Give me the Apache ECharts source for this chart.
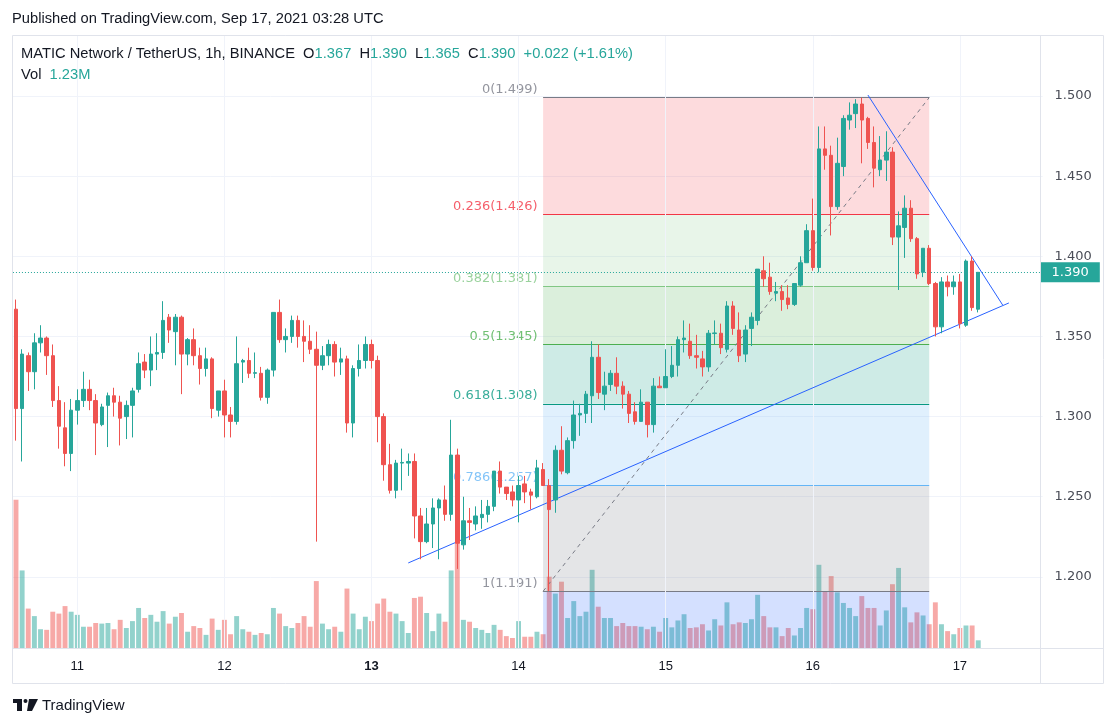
<!DOCTYPE html>
<html>
<head>
<meta charset="utf-8">
<script src="https://cdn.jsdelivr.net/npm/echarts@6.0.0/dist/echarts.min.js"></script>
<style>
html,body{margin:0;padding:0;background:#ffffff;}
#chart{width:1116px;height:727px;}
</style>
</head>
<body>
<div id="chart"></div>
<script>
// ---------- data ----------
const FIRST_BAR_UTC = Date.UTC(2021, 8, 10, 14); // first hourly bar: Sep 10 2021 14:00 UTC
const SLOT_COUNT = 168;                           // hourly slots on the time axis (incl. empty right margin)

const opens = [
1.367,1.305,1.338,1.328,1.346,1.349,1.338,1.310,1.293,1.277,
1.304,1.310,1.317,1.310,1.295,1.307,1.313,1.309,1.300,1.307,
1.317,1.334,1.329,1.339,1.340,1.362,1.353,1.362,1.339,1.348,
1.338,1.330,1.336,1.304,1.316,1.301,1.297,1.334,1.335,1.327,
1.327,1.312,1.329,1.365,1.348,1.350,1.360,1.350,1.347,1.342,
1.332,1.338,1.345,1.334,1.336,1.296,1.330,1.335,1.345,1.335,
1.300,1.270,1.254,1.271,1.271,1.272,1.238,1.222,1.233,1.243,
1.248,1.239,1.276,1.220,1.235,1.233,1.237,1.239,1.244,1.266,
1.256,1.253,1.248,1.258,1.253,1.250,1.267,1.257,1.248,1.279,
1.265,1.285,1.301,1.302,1.313,1.337,1.314,1.320,1.327,1.319,
1.314,1.303,1.297,1.309,1.295,1.319,1.318,1.325,1.332,1.348,
1.347,1.338,1.336,1.331,1.3518,1.352,1.342,1.369,1.354,1.339,
1.355,1.360,1.391,1.387,1.377,1.378,1.374,1.370,1.382,1.396,
1.416,1.393,1.467,1.463,1.431,1.456,1.485,1.489,1.495,1.486,
1.471,1.454,1.460,1.465,1.412,1.418,1.430,1.411,1.390,1.405,
1.383,1.356,1.384,1.381,1.384,1.357,1.397,1.367];

const closes = [
1.305,1.339,1.328,1.346,1.349,1.338,1.310,1.294,1.277,1.304,
1.310,1.317,1.310,1.296,1.306,1.313,1.309,1.299,1.307,1.316,
1.333,1.329,1.339,1.340,1.360,1.354,1.362,1.339,1.348,1.338,
1.330,1.336,1.305,1.316,1.301,1.297,1.333,1.335,1.327,1.3274,
1.312,1.329,1.365,1.348,1.350,1.360,1.350,1.347,1.342,1.332,
1.338,1.345,1.334,1.336,1.296,1.330,1.335,1.345,1.335,1.300,
1.270,1.254,1.271,1.2714,1.272,1.238,1.222,1.233,1.243,1.248,
1.239,1.276,1.221,1.235,1.234,1.238,1.239,1.244,1.266,1.256,
1.252,1.248,1.257,1.253,1.251,1.268,1.257,1.242,1.279,1.266,
1.285,1.301,1.302,1.314,1.337,1.315,1.319,1.327,1.319,1.314,
1.302,1.297,1.309,1.295,1.319,1.318,1.325,1.332,1.348,1.349,
1.338,1.337,1.331,1.352,1.3522,1.343,1.369,1.355,1.338,1.354,
1.362,1.392,1.386,1.378,1.378,1.373,1.370,1.383,1.396,1.416,
1.393,1.467,1.463,1.431,1.458,1.486,1.488,1.495,1.485,1.471,
1.455,1.460,1.465,1.412,1.419,1.430,1.411,1.389,1.405,1.383,
1.356,1.384,1.381,1.384,1.358,1.397,1.368,1.390];

const lows = [
1.285,1.272,1.316,1.317,1.340,1.326,1.306,1.280,1.269,1.266,
1.295,1.306,1.304,1.276,1.294,1.281,1.300,1.282,1.286,1.287,
1.315,1.324,1.319,1.329,1.336,1.346,1.332,1.314,1.332,1.332,
1.320,1.325,1.299,1.300,1.287,1.287,1.295,1.321,1.324,1.324,
1.310,1.308,1.325,1.346,1.340,1.346,1.343,1.334,1.339,1.222,
1.329,1.332,1.325,1.326,1.290,1.287,1.325,1.330,1.330,1.284,
1.260,1.252,1.249,1.254,1.263,1.224,1.211,1.221,1.218,1.211,
1.235,1.235,1.205,1.217,1.223,1.229,1.230,1.234,1.241,1.252,
1.248,1.244,1.234,1.246,1.242,1.249,1.257,1.191,1.240,1.264,
1.264,1.280,1.288,1.296,1.296,1.311,1.304,1.316,1.314,1.305,
1.296,1.295,1.297,1.287,1.290,1.318,1.318,1.324,1.325,1.340,
1.336,1.330,1.325,1.328,1.345,1.339,1.340,1.351,1.334,1.334,
1.344,1.357,1.381,1.376,1.372,1.366,1.367,1.369,1.381,1.396,
1.391,1.390,1.454,1.413,1.429,1.450,1.479,1.480,1.458,1.467,
1.443,1.450,1.447,1.407,1.379,1.399,1.409,1.386,1.387,1.382,
1.350,1.352,1.375,1.376,1.355,1.356,1.366,1.365];

const highs = [
1.373,1.342,1.340,1.352,1.357,1.350,1.345,1.319,1.309,1.311,
1.317,1.328,1.323,1.314,1.308,1.315,1.318,1.313,1.310,1.318,
1.340,1.339,1.350,1.352,1.372,1.364,1.364,1.363,1.349,1.355,
1.343,1.343,1.337,1.316,1.323,1.306,1.350,1.336,1.343,1.340,
1.331,1.330,1.365,1.373,1.355,1.363,1.363,1.360,1.357,1.353,
1.344,1.348,1.347,1.343,1.338,1.332,1.345,1.350,1.348,1.338,
1.302,1.283,1.273,1.280,1.277,1.277,1.243,1.243,1.249,1.249,
1.257,1.298,1.280,1.250,1.243,1.244,1.248,1.248,1.266,1.272,
1.256,1.257,1.263,1.263,1.255,1.273,1.271,1.261,1.282,1.294,
1.287,1.310,1.308,1.316,1.347,1.345,1.328,1.329,1.337,1.322,
1.316,1.309,1.317,1.309,1.324,1.325,1.342,1.344,1.350,1.360,
1.358,1.351,1.341,1.354,1.360,1.358,1.372,1.372,1.365,1.357,
1.365,1.392,1.400,1.396,1.384,1.382,1.382,1.383,1.400,1.420,
1.436,1.481,1.481,1.469,1.474,1.488,1.496,1.498,1.499,1.487,
1.481,1.475,1.478,1.468,1.428,1.438,1.435,1.412,1.405,1.407,
1.384,1.387,1.388,1.388,1.389,1.398,1.400,1.390];

// volume, millions
const volumes = [
23.7,12.4,6.3,5.1,3.0,2.9,5.8,5.5,6.7,5.8,
5.3,3.4,3.4,4.0,3.9,4.0,3.0,4.5,3.2,4.3,
6.4,4.8,5.3,4.2,5.9,3.9,5.0,5.6,2.6,3.5,
3.2,2.1,4.7,2.9,4.5,2.2,5.1,3.0,2.6,2.1,
2.4,2.2,6.4,5.5,3.5,3.2,4.0,5.1,3.4,10.7,
3.9,3.0,3.4,2.6,9.5,5.5,3.0,5.0,4.3,7.1,
7.9,5.8,5.5,4.3,2.4,8.0,8.2,5.6,2.7,5.5,
4.2,12.4,16.8,4.5,4.2,3.2,2.9,2.4,3.7,2.9,
1.9,1.6,4.3,1.8,1.8,2.6,2.2,11.4,8.7,10.6,
4.8,7.5,5.1,5.8,12.5,6.6,4.8,4.8,3.5,4.0,
3.5,3.5,3.4,3.0,3.4,2.6,4.8,3.3,4.4,5.4,
3.2,3.3,3.8,2.8,4.6,3.6,7.3,3.8,4.1,4.0,
4.6,8.5,5.1,3.3,3.3,1.9,3.2,2.0,3.2,6.4,
6.2,13.3,9.1,11.5,8.9,7.2,6.4,5.1,8.3,6.4,
6.4,3.6,6.0,10.2,12.8,6.5,4.1,5.7,5.2,3.8,
7.3,3.8,2.7,2.2,3.2,3.6,3.6,1.23];

// Fibonacci retracement drawing
const fibRatios = ['0','0.236','0.382','0.5','0.618','0.786','1'];
const fibPrices = [1.499,1.426,1.381,1.345,1.308,1.257,1.191];
const fibStartBar = 86, fibEndBar = 149;

// trend lines: [barIndex, price]
const supportLine    = [[64, 1.2087], [162, 1.3709]];
const resistanceLine = [[139, 1.5006], [161, 1.3695]];
const fibTrendLine   = [[fibStartBar, 1.191], [fibEndBar, 1.499]];

// visible price range of the pane
const PRICE_MIN = 1.15564, PRICE_MAX = 1.53805;
const VOLUME_AXIS_MAX = 98;

// ---------- build ----------
const categories = [];
for (let i = 0; i < SLOT_COUNT; i++) {
  const d = new Date(FIRST_BAR_UTC + i * 3600000);
  categories.push(d.getUTCDate() + ' ' + String(d.getUTCHours()).padStart(2, '0') + ':00');
}
const dayStarts = categories.filter(c => c.endsWith(' 00:00'));

const candleData = opens.map((o, i) => [o, closes[i], lows[i], highs[i]]);
const volData = volumes.map((v, i) => ({
  value: v,
  itemStyle: { color: closes[i] >= opens[i] ? 'rgba(38,166,154,0.5)' : 'rgba(239,83,80,0.5)' }
}));

const last = closes.length - 1;
const chg = closes[last] - closes[last - 1];
const pct = chg / closes[last - 1] * 100;

const fibLineColors = ['#787b86','#f23645','#81c784','#4caf50','#089981','#64b5f6','#787b86'];
const fibFillColors = ['rgba(242,54,69,0.18)','rgba(129,199,132,0.18)','rgba(76,175,80,0.2)',
  'rgba(8,153,129,0.2)','rgba(100,181,246,0.2)','rgba(120,123,134,0.2)','rgba(41,98,255,0.2)'];

const fibAreas = [];
for (let i = 0; i < fibPrices.length - 1; i++) {
  fibAreas.push([{ coord: [fibStartBar, fibPrices[i]], itemStyle: { color: fibFillColors[i] } },
                 { coord: [fibEndBar, fibPrices[i + 1]] }]);
}
fibAreas.push([{ coord: [fibStartBar, fibPrices[fibPrices.length - 1]], itemStyle: { color: fibFillColors[6] } },
               { coord: [fibEndBar, PRICE_MIN] }]);

const fibLines = fibPrices.map((p, i) => [
  { coord: [fibStartBar, p], lineStyle: { color: fibLineColors[i] } },
  { coord: [fibEndBar, p] }
]);

const FONT = "'Liberation Sans', Arial, sans-serif";
const AXFONT = "'DejaVu Sans', Verdana, sans-serif";
const chart = echarts.init(document.getElementById('chart'), null, { renderer: 'canvas' });

chart.setOption({
  animation: false,
  backgroundColor: '#ffffff',
  textStyle: { fontFamily: FONT },
  grid: { left: 12.94, right: 73.4, top: 35, bottom: 79, containLabel: false },
  xAxis: {
    type: 'category',
    data: categories,
    boundaryGap: true,
    axisLine: { show: false },
    axisTick: { show: false },
    splitLine: { show: false },
    axisLabel: {
      interval: (idx, val) => val.endsWith(' 00:00'),
      formatter: (val) => {
        const day = val.split(' ')[0];
        return day === '13' ? '{b|' + day + '}' : day;
      },
      color: '#131722', fontSize: 13, margin: 12, fontFamily: FONT,
      rich: { b: { fontWeight: 'bold', fontSize: 13, color: '#131722', fontFamily: FONT } }
    }
  },
  yAxis: [{
    type: 'value',
    position: 'right',
    min: PRICE_MIN, max: PRICE_MAX,
    splitNumber: 8,
    axisLine: { show: false },
    axisTick: { show: false },
    splitLine: { show: true, lineStyle: { color: '#f0f3fa', width: 1 } },
    axisLabel: {
      showMinLabel: false, showMaxLabel: false,
      formatter: (v) => Math.abs(v * 20 - Math.round(v * 20)) < 1e-6 ? v.toFixed(3) : '',
      color: '#4a4d57', fontSize: 13, margin: 12, fontFamily: AXFONT
    }
  }, {
    type: 'value', min: 0, max: VOLUME_AXIS_MAX, show: false,
    splitLine: { show: false }
  }],
  series: [
    {
      name: 'Vol', type: 'bar', yAxisIndex: 1, z: 1,
      barWidth: '80%', data: volData, silent: true,
      markLine: {
        silent: true, symbol: ['none', 'none'], label: { show: false },
        lineStyle: { color: '#f0f3fa', width: 1, type: 'solid' },
        data: dayStarts.map(c => ({ xAxis: c }))
      }
    },
    {
      name: 'Fib', type: 'scatter', z: 2, silent: true,
      symbolSize: 1, itemStyle: { color: 'rgba(0,0,0,0)' },
      data: fibPrices.map((p, i) => ({ value: [fibStartBar, p], label: { color: fibLineColors[i] } })),
      label: {
        show: true, position: 'left', distance: 5, offset: [0, -8],
        fontSize: 13, fontFamily: AXFONT,
        formatter: (p) => fibRatios[p.dataIndex] + '(' + fibPrices[p.dataIndex].toFixed(3) + ')'
      },
      markArea: { silent: true, z: 2, data: fibAreas },
      markLine: {
        silent: true, symbol: ['none', 'none'], label: { show: false }, z: 2,
        lineStyle: { width: 1, type: 'solid' },
        data: fibLines
      }
    },
    {
      name: 'MATICUSDT', type: 'candlestick', z: 5, barWidth: 4,
      data: candleData, silent: true,
      itemStyle: {
        color: '#26a69a', color0: '#ef5350',
        borderColor: '#26a69a', borderColor0: '#ef5350', borderWidth: 1
      },
      markLine: {
        silent: true, symbol: ['none', 'none'],
        data: [{
          yAxis: closes[last],
          lineStyle: { color: '#26a69a', type: [1, 2], width: 1 },
          label: {
            show: true, position: 'end', distance: 0, offset: [-2, 0],
            formatter: closes[last].toFixed(3),
            backgroundColor: '#26a69a', color: '#ffffff', fontSize: 13,
            padding: [4, 11, 3, 11], fontFamily: AXFONT
          }
        }]
      }
    },
    {
      name: 'Drawings', type: 'line', z: 6, data: [], silent: true,
      markLine: {
        silent: true, symbol: ['none', 'none'], label: { show: false },
        data: [
          [{ coord: supportLine[0], lineStyle: { color: '#2962ff', width: 1, type: 'solid' } }, { coord: supportLine[1] }],
          [{ coord: resistanceLine[0], lineStyle: { color: '#2962ff', width: 1, type: 'solid' } }, { coord: resistanceLine[1] }],
          [{ coord: fibTrendLine[0], lineStyle: { color: '#787b86', width: 1, type: [4, 4] } }, { coord: fibTrendLine[1] }]
        ]
      }
    }
  ],
  graphic: [
    { type: 'rect', silent: true, z: 100, shape: { x: 12.5, y: 35.5, width: 1091, height: 648 },
      style: { fill: 'none', stroke: '#e0e3eb', lineWidth: 1 } },
    { type: 'line', silent: true, z: 100, shape: { x1: 1040.5, y1: 35, x2: 1040.5, y2: 683 },
      style: { stroke: '#e0e3eb', lineWidth: 1 } },
    { type: 'line', silent: true, z: 100, shape: { x1: 12, y1: 648.5, x2: 1103, y2: 648.5 },
      style: { stroke: '#e0e3eb', lineWidth: 1 } },
    { type: 'text', silent: true, z: 100, x: 12, y: 19,
      style: { text: 'Published on TradingView.com, Sep 17, 2021 03:28 UTC', fill: '#131722',
               font: '14.7px ' + FONT, textVerticalAlign: 'middle' } },
    { type: 'text', silent: true, z: 100, x: 21, y: 54,
      style: {
        text: '{t|MATIC Network / TetherUS, 1h, BINANCE}  {t|O}{v|' + opens[last].toFixed(3) +
              '}  {t|H}{v|' + highs[last].toFixed(3) + '}  {t|L}{v|' + lows[last].toFixed(3) +
              '}  {t|C}{v|' + closes[last].toFixed(3) + '}  {v|' + (chg >= 0 ? '+' : '') + chg.toFixed(3) +
              ' (' + (pct >= 0 ? '+' : '') + pct.toFixed(2) + '%)}',
        font: '14.7px ' + FONT, textVerticalAlign: 'middle',
        rich: { t: { fill: '#131722', font: '14.7px ' + FONT }, v: { fill: '#26a69a', font: '14.7px ' + FONT } }
      } },
    { type: 'text', silent: true, z: 100, x: 21, y: 75,
      style: {
        text: '{t|Vol}  {v|' + volumes[last].toFixed(2) + 'M}',
        font: '14.7px ' + FONT, textVerticalAlign: 'middle',
        rich: { t: { fill: '#131722', font: '14.7px ' + FONT }, v: { fill: '#26a69a', font: '14.7px ' + FONT } }
      } },
    // TradingView logo
    { type: 'rect', silent: true, shape: { x: 13, y: 699, width: 9, height: 4 }, style: { fill: '#131722' } },
    { type: 'rect', silent: true, shape: { x: 17, y: 699, width: 5, height: 12 }, style: { fill: '#131722' } },
    { type: 'circle', silent: true, shape: { cx: 25.5, cy: 701, r: 2 }, style: { fill: '#131722' } },
    { type: 'polygon', silent: true, shape: { points: [[29, 699], [38, 699], [32, 711], [27, 711]] }, style: { fill: '#131722' } },
    { type: 'text', silent: true, x: 42, y: 706,
      style: { text: 'TradingView', fill: '#131722', font: '15px ' + FONT, textVerticalAlign: 'middle' } }
  ]
});
</script>
</body>
</html>
